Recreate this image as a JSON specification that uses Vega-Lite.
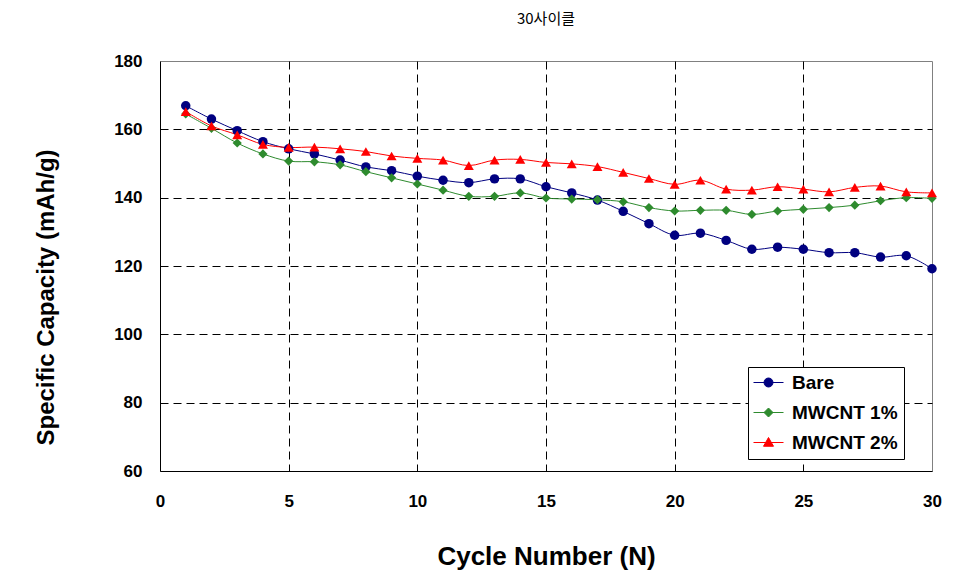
{
  "$schema": "https://vega.github.io/schema/vega-lite/v6.json",
  "autosize": "none",
  "width": 772,
  "height": 410,
  "padding": {"left": 160, "top": 61, "right": 25, "bottom": 113},
  "background": "white",
  "title": {"text": "30사이클", "font": "Noto Sans CJK KR", "fontSize": 15, "fontWeight": "normal", "color": "black", "anchor": "middle", "offset": 25},
  "config": {
    "view": {"stroke": "#808080", "strokeWidth": 1},
    "axis": {"labelFont": "Liberation Sans", "titleFont": "Liberation Sans", "labelColor": "black", "titleColor": "black", "labelFontWeight": "bold", "titleFontWeight": "bold", "labelFontSize": 17, "ticks": false, "domainColor": "black", "domainWidth": 1, "gridColor": "black", "gridDash": [8, 5], "gridWidth": 1, "gridOpacity": 1, "labelFlush": false}
  },
  "data": {"values": [
    {"c":1,"s":"Bare","v":166.9},{"c":2,"s":"Bare","v":163.0},{"c":3,"s":"Bare","v":159.6},{"c":4,"s":"Bare","v":156.4},{"c":5,"s":"Bare","v":154.3},{"c":6,"s":"Bare","v":152.8},{"c":7,"s":"Bare","v":151.0},{"c":8,"s":"Bare","v":149.0},{"c":9,"s":"Bare","v":147.9},{"c":10,"s":"Bare","v":146.3},
    {"c":11,"s":"Bare","v":145.1},{"c":12,"s":"Bare","v":144.4},{"c":13,"s":"Bare","v":145.5},{"c":14,"s":"Bare","v":145.5},{"c":15,"s":"Bare","v":143.2},{"c":16,"s":"Bare","v":141.4},{"c":17,"s":"Bare","v":139.3},{"c":18,"s":"Bare","v":136.0},{"c":19,"s":"Bare","v":132.4},{"c":20,"s":"Bare","v":129.0},
    {"c":21,"s":"Bare","v":129.6},{"c":22,"s":"Bare","v":127.5},{"c":23,"s":"Bare","v":124.9},{"c":24,"s":"Bare","v":125.5},{"c":25,"s":"Bare","v":124.9},{"c":26,"s":"Bare","v":123.9},{"c":27,"s":"Bare","v":123.9},{"c":28,"s":"Bare","v":122.6},{"c":29,"s":"Bare","v":123.0},{"c":30,"s":"Bare","v":119.2},
    {"c":1,"s":"MWCNT 1%","v":164.5},{"c":2,"s":"MWCNT 1%","v":160.3},{"c":3,"s":"MWCNT 1%","v":156.0},{"c":4,"s":"MWCNT 1%","v":152.8},{"c":5,"s":"MWCNT 1%","v":150.7},{"c":6,"s":"MWCNT 1%","v":150.5},{"c":7,"s":"MWCNT 1%","v":149.6},{"c":8,"s":"MWCNT 1%","v":147.6},{"c":9,"s":"MWCNT 1%","v":145.8},{"c":10,"s":"MWCNT 1%","v":144.0},
    {"c":11,"s":"MWCNT 1%","v":142.2},{"c":12,"s":"MWCNT 1%","v":140.4},{"c":13,"s":"MWCNT 1%","v":140.4},{"c":14,"s":"MWCNT 1%","v":141.4},{"c":15,"s":"MWCNT 1%","v":139.9},{"c":16,"s":"MWCNT 1%","v":139.6},{"c":17,"s":"MWCNT 1%","v":139.4},{"c":18,"s":"MWCNT 1%","v":138.8},{"c":19,"s":"MWCNT 1%","v":137.1},{"c":20,"s":"MWCNT 1%","v":136.1},
    {"c":21,"s":"MWCNT 1%","v":136.3},{"c":22,"s":"MWCNT 1%","v":136.3},{"c":23,"s":"MWCNT 1%","v":135.1},{"c":24,"s":"MWCNT 1%","v":136.1},{"c":25,"s":"MWCNT 1%","v":136.6},{"c":26,"s":"MWCNT 1%","v":137.1},{"c":27,"s":"MWCNT 1%","v":137.8},{"c":28,"s":"MWCNT 1%","v":139.1},{"c":29,"s":"MWCNT 1%","v":140.0},{"c":30,"s":"MWCNT 1%","v":139.8},
    {"c":1,"s":"MWCNT 2%","v":165.2},{"c":2,"s":"MWCNT 2%","v":161.0},{"c":3,"s":"MWCNT 2%","v":158.4},{"c":4,"s":"MWCNT 2%","v":155.6},{"c":5,"s":"MWCNT 2%","v":154.7},{"c":6,"s":"MWCNT 2%","v":154.8},{"c":7,"s":"MWCNT 2%","v":154.3},{"c":8,"s":"MWCNT 2%","v":153.5},{"c":9,"s":"MWCNT 2%","v":152.2},{"c":10,"s":"MWCNT 2%","v":151.5},
    {"c":11,"s":"MWCNT 2%","v":151.0},{"c":12,"s":"MWCNT 2%","v":149.4},{"c":13,"s":"MWCNT 2%","v":151.0},{"c":14,"s":"MWCNT 2%","v":151.2},{"c":15,"s":"MWCNT 2%","v":150.3},{"c":16,"s":"MWCNT 2%","v":149.9},{"c":17,"s":"MWCNT 2%","v":149.1},{"c":18,"s":"MWCNT 2%","v":147.4},{"c":19,"s":"MWCNT 2%","v":145.6},{"c":20,"s":"MWCNT 2%","v":143.9},
    {"c":21,"s":"MWCNT 2%","v":145.1},{"c":22,"s":"MWCNT 2%","v":142.5},{"c":23,"s":"MWCNT 2%","v":142.2},{"c":24,"s":"MWCNT 2%","v":143.2},{"c":25,"s":"MWCNT 2%","v":142.5},{"c":26,"s":"MWCNT 2%","v":141.7},{"c":27,"s":"MWCNT 2%","v":143.0},{"c":28,"s":"MWCNT 2%","v":143.4},{"c":29,"s":"MWCNT 2%","v":141.7},{"c":30,"s":"MWCNT 2%","v":141.4}
  ]},
  "encoding": {
    "x": {"field": "c", "type": "quantitative", "scale": {"domain": [0, 30], "nice": false}, "axis": {"title": "Cycle Number (N)", "titleFontSize": 26, "values": [0, 5, 10, 15, 20, 25, 30], "labelPadding": 22, "titlePadding": 34, "labelFlush": false, "gridOpacity": {"condition": {"test": "datum.value === 0 || datum.value === 30", "value": 0}, "value": 1}}},
    "y": {"field": "v", "type": "quantitative", "scale": {"domain": [60, 180], "nice": false, "zero": false}, "axis": {"title": "Specific Capacity (mAh/g)", "titleFontSize": 24, "values": [60, 80, 100, 120, 140, 160, 180], "labelPadding": 18, "titlePadding": 55, "titleY": 236, "labelFlush": false, "gridOpacity": {"condition": {"test": "datum.value === 60 || datum.value === 180", "value": 0}, "value": 1}}},
    "color": {"field": "s", "type": "nominal", "scale": {"domain": ["Bare", "MWCNT 1%", "MWCNT 2%"], "range": ["#000080", "#2e8b2e", "#ff0000"]},
      "legend": {"title": null, "orient": "none", "legendX": 588, "legendY": 306, "fillColor": "white", "strokeColor": "black", "padding": 6, "labelFont": "Liberation Sans", "labelFontSize": 19, "labelFontWeight": "bold", "labelColor": "black", "symbolSize": 100, "symbolOffset": 5, "labelOffset": 14, "rowPadding": 10, "labelLimit": 300,
         "encode": {"symbols": {"update": {
           "shape": {"signal": "datum.value === 'Bare' ? 'M-3,0L3,0M-0.9,0A0.9,0.9 0 1,0 0.9,0A0.9,0.9 0 1,0 -0.9,0Z' : datum.value === 'MWCNT 1%' ? 'M-3,0L3,0M0,-0.9L0.9,0L0,0.9L-0.9,0Z' : 'M-3,0L3,0M0,-1L1,0.75L-1,0.75Z'"},
           "fill": {"scale": "color", "field": "value"},
           "stroke": {"scale": "color", "field": "value"},
           "strokeWidth": {"value": 1},
           "opacity": {"value": 1}
         }}}}}
  },
  "layer": [
    {"mark": {"type": "line", "interpolate": "catmull-rom", "strokeWidth": 1}},
    {"mark": {"type": "point", "filled": true, "opacity": 1},
     "encoding": {
       "shape": {"condition": [{"test": "datum.s === 'Bare'", "value": "circle"}, {"test": "datum.s === 'MWCNT 1%'", "value": "diamond"}], "value": "triangle-up"},
       "size": {"condition": [{"test": "datum.s === 'Bare'", "value": 90}, {"test": "datum.s === 'MWCNT 1%'", "value": 85}], "value": 100}
     }}
  ]
}
